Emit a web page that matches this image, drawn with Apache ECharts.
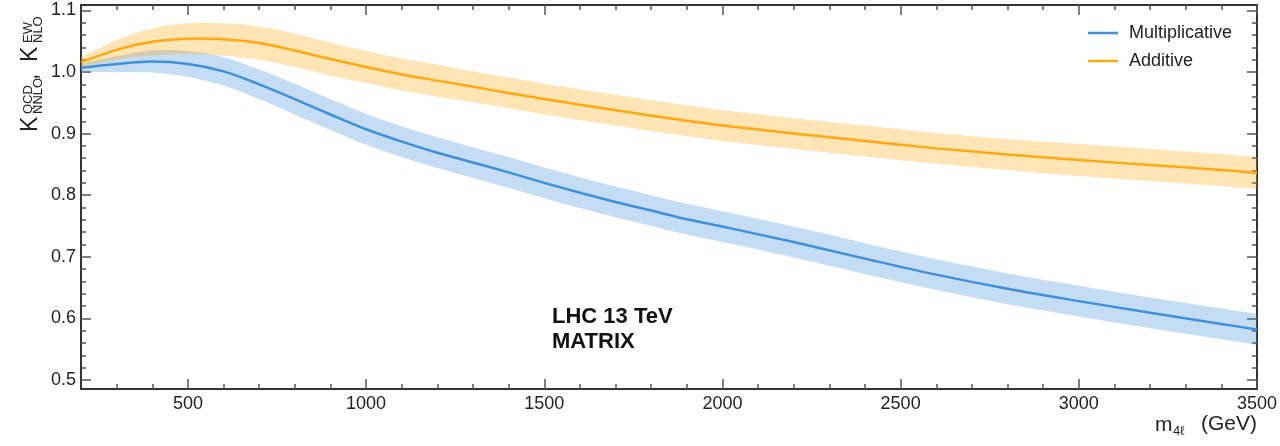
<!DOCTYPE html>
<html><head><meta charset="utf-8">
<script src="https://cdn.jsdelivr.net/npm/echarts@6/dist/echarts.min.js"></script>
<style>html,body{margin:0;padding:0;background:#fff}#c{width:1280px;height:446px}</style>
</head><body><div id="c"></div><script>
// ---- data ----
const mass = [200,300,400,500,600,700,800,900,1000,1100,1200,1300,1400,1500,1600,1700,1800,1900,2000,2200,2400,2600,2800,3000,3200,3400,3500];
const multCentral = [1.007,1.013,1.017,1.013,1.001,0.980,0.956,0.931,0.907,0.887,0.869,0.853,0.837,0.820,0.804,0.789,0.775,0.761,0.749,0.724,0.697,0.671,0.648,0.628,0.609,0.591,0.582];
const multLow = [1.000,1.000,0.999,0.992,0.978,0.956,0.931,0.906,0.882,0.862,0.844,0.828,0.812,0.795,0.779,0.764,0.750,0.736,0.724,0.699,0.672,0.646,0.623,0.603,0.584,0.566,0.557];
const multHigh = [1.014,1.026,1.035,1.034,1.024,1.004,0.981,0.956,0.932,0.912,0.894,0.878,0.862,0.845,0.829,0.814,0.800,0.786,0.774,0.749,0.722,0.696,0.673,0.653,0.634,0.616,0.607];
const addCentral = [1.016,1.036,1.049,1.054,1.053,1.047,1.035,1.021,1.008,0.996,0.986,0.976,0.966,0.956,0.947,0.938,0.929,0.921,0.913,0.900,0.888,0.876,0.866,0.857,0.849,0.841,0.836];
const addLow = [1.008,1.020,1.027,1.029,1.027,1.020,1.008,0.994,0.982,0.970,0.960,0.951,0.941,0.931,0.922,0.913,0.904,0.896,0.888,0.875,0.863,0.851,0.841,0.831,0.823,0.815,0.810];
const addHigh = [1.024,1.052,1.071,1.079,1.079,1.074,1.062,1.048,1.034,1.022,1.012,1.001,0.991,0.981,0.972,0.963,0.954,0.946,0.938,0.925,0.913,0.901,0.891,0.883,0.875,0.867,0.862];
const seriesNames = ['Multiplicative','Additive'];
const xMajorTicks = [500,1000,1500,2000,2500,3000,3500];
const xMinorTicks = [300,400,600,700,800,900,1100,1200,1300,1400,1600,1700,1800,1900,2100,2200,2300,2400,2600,2700,2800,2900,3100,3200,3300,3400];
const yMajorTicks = [0.5,0.6,0.7,0.8,0.9,1.0,1.1];
const yMinorTicks = [0.52,0.54,0.56,0.58,0.62,0.64,0.66,0.68,0.72,0.74,0.76,0.78,0.82,0.84,0.86,0.88,0.92,0.94,0.96,0.98,1.02,1.04,1.06,1.08];
const xRange = [200,3500];
const yRange = [0.4853,1.1088];
const annotation = ['LHC 13 TeV','MATRIX'];

// ---- chart ----
const FONT = '"Liberation Sans", Arial, Helvetica, sans-serif';
const BLUE = '#3f90da', ORANGE = '#ffa90e';

const gridRect = {left:81, top:5, width:1176, height:384};
function xAx(grid, pos, ticks, len, labels, line){
  return {type:'value', gridIndex:grid, position:pos, min:xRange[0], max:xRange[1],
    axisLine:{show:line, onZero:false, lineStyle:{color:'#333', width:2}},
    axisTick:{show:true, inside:true, length:len, customValues:ticks, lineStyle:{color:'#555', width:1.5}},
    axisLabel:{show:labels, customValues:ticks, fontSize:18, color:'#222', fontFamily:FONT, margin:6,
      formatter:(v)=>String(v)},
    splitLine:{show:false}};
}
function yAx(grid, pos, ticks, len, labels, line){
  return {type:'value', gridIndex:grid, position:pos, min:yRange[0], max:yRange[1],
    axisLine:{show:line, onZero:false, lineStyle:{color:'#333', width:2}},
    axisTick:{show:true, inside:true, length:len, customValues:ticks, lineStyle:{color:'#555', width:1.5}},
    axisLabel:{show:labels, customValues:ticks, fontSize:18, color:'#222', fontFamily:FONT, margin:5,
      formatter:(v)=>v.toFixed(1)},
    splitLine:{show:false}};
}

// cubic Hermite (finite-difference tangents, non-uniform spacing) through pixel points
function splineCmds(pts){
  const n = pts.length;
  const slope = (i) => {
    const a = pts[Math.max(i-1,0)], b = pts[Math.min(i+1,n-1)];
    return (b[1]-a[1])/(b[0]-a[0]);
  };
  let d = '';
  for (let i = 0; i < n - 1; i++) {
    const p1 = pts[i], p2 = pts[i+1];
    const h = (p2[0]-p1[0])/3;
    const c1 = [p1[0] + h, p1[1] + slope(i)*h];
    const c2 = [p2[0] - h, p2[1] - slope(i+1)*h];
    d += ' C' + c1[0] + ',' + c1[1] + ' ' + c2[0] + ',' + c2[1] + ' ' + p2[0] + ',' + p2[1];
  }
  return d;
}
function bandSeries(name, lo, hi, color, z){
  return {
    type:'custom', name:name, coordinateSystem:'cartesian2d', xAxisIndex:0, yAxisIndex:0,
    silent:true, clip:true, z:z,
    data: mass.map((m,i)=>[m, lo[i], hi[i]]),
    encode:{x:0, y:[1,2]},
    renderItem:function(params, api){
      if (params.dataIndex !== 0) return null;
      const up = mass.map((m,i)=>api.coord([m, hi[i]]));
      const dnF = mass.map((m,i)=>api.coord([m, lo[i]]));
      // reversed lower edge: mirror x so spline math stays left-to-right, then map back
      const dnCmds = splineCmds(dnF.map(p=>[-p[0], p[1]]).reverse())
        .replace(/(-?[\d.e+-]+),(-?[\d.e+-]+)/g, (s,a,b)=>(-parseFloat(a))+','+b);
      const last = dnF[dnF.length-1];
      const d = 'M' + up[0][0] + ',' + up[0][1] + splineCmds(up) +
                ' L' + last[0] + ',' + last[1] + dnCmds + ' Z';
      return {type:'path', shape:{pathData:d}, style:{fill:color, opacity:0.3, stroke:null}};
    }
  };
}
function lineSeries(name, ys, color, z){
  return {
    type:'custom', name:name, coordinateSystem:'cartesian2d', xAxisIndex:0, yAxisIndex:0,
    silent:true, clip:true, z:z, itemStyle:{color:color},
    data: mass.map((m,i)=>[m, ys[i]]),
    encode:{x:0, y:1},
    renderItem:function(params, api){
      if (params.dataIndex !== 0) return null;
      const pts = mass.map((m,i)=>api.coord([m, ys[i]]));
      const d = 'M' + pts[0][0] + ',' + pts[0][1] + splineCmds(pts);
      return {type:'path', shape:{pathData:d}, style:{fill:null, stroke:color, lineWidth:2.5}};
    }
  };
}

const option = {
  animation:false,
  backgroundColor:'#fff',
  grid:[Object.assign({}, gridRect), Object.assign({}, gridRect)],
  xAxis:[
    xAx(0,'bottom',xMajorTicks,10,true,true),
    xAx(0,'top',xMajorTicks,10,false,true),
    xAx(1,'bottom',xMinorTicks,5,false,false),
    xAx(1,'top',xMinorTicks,5,false,false)
  ],
  yAxis:[
    yAx(0,'left',yMajorTicks,10,true,true),
    yAx(0,'right',yMajorTicks,10,false,true),
    yAx(1,'left',yMinorTicks,5,false,false),
    yAx(1,'right',yMinorTicks,5,false,false)
  ],
  legend:{
    data:seriesNames, orient:'vertical', left:1083, top:19,
    icon:'rect', itemWidth:30, itemHeight:2.5, itemGap:10,
    textStyle:{fontSize:18, color:'#222', fontFamily:FONT, padding:[0,0,0,6], lineHeight:18}
  },
  series:[
    bandSeries('multBand', multLow, multHigh, BLUE, 1),
    bandSeries('addBand', addLow, addHigh, ORANGE, 2),
    lineSeries(seriesNames[0], multCentral, BLUE, 3),
    lineSeries(seriesNames[1], addCentral, ORANGE, 4)
  ],
  graphic:[
    // y-axis title, rotated
    {type:'group', x:39, y:132, rotation:Math.PI/2, children:[
      {type:'text', x:0, y:-8, style:{text:'K', fontSize:23, fontFamily:FONT, fill:'#222', verticalAlign:'middle'}},
      {type:'text', x:18, y:-11, style:{text:'QCD', fontSize:13, fontFamily:FONT, fill:'#222', verticalAlign:'middle'}},
      {type:'text', x:18, y:-0.5, style:{text:'NNLO', fontSize:13, fontFamily:FONT, fill:'#222', verticalAlign:'middle'}},
      {type:'text', x:52, y:-8, style:{text:',', fontSize:23, fontFamily:FONT, fill:'#222', verticalAlign:'middle'}},
      {type:'text', x:70, y:-8, style:{text:'K', fontSize:23, fontFamily:FONT, fill:'#222', verticalAlign:'middle'}},
      {type:'text', x:89, y:-11, style:{text:'EW', fontSize:13, fontFamily:FONT, fill:'#222', verticalAlign:'middle'}},
      {type:'text', x:89, y:-0.5, style:{text:'NLO', fontSize:13, fontFamily:FONT, fill:'#222', verticalAlign:'middle'}}
    ]},
    // x-axis title
    {type:'text', right:23, top:414, style:{text:'(GeV)', fontSize:21, fontFamily:FONT, fill:'#222'}},
    {type:'text', left:1155, top:415, style:{text:'m', fontSize:21, fontFamily:FONT, fill:'#222'}},
    {type:'text', left:1173, top:425, style:{text:'4ℓ', fontSize:13, fontFamily:FONT, fill:'#222'}},
    // annotation
    {type:'text', left:552, top:306, style:{text:annotation[0], fontSize:22, fontWeight:'bold', fontFamily:FONT, fill:'#111'}},
    {type:'text', left:552, top:331, style:{text:annotation[1], fontSize:22, fontWeight:'bold', fontFamily:FONT, fill:'#111'}}
  ]
};
const chart = echarts.init(document.getElementById('c'), null, {renderer:'canvas'});
chart.setOption(option);
</script></body></html>
